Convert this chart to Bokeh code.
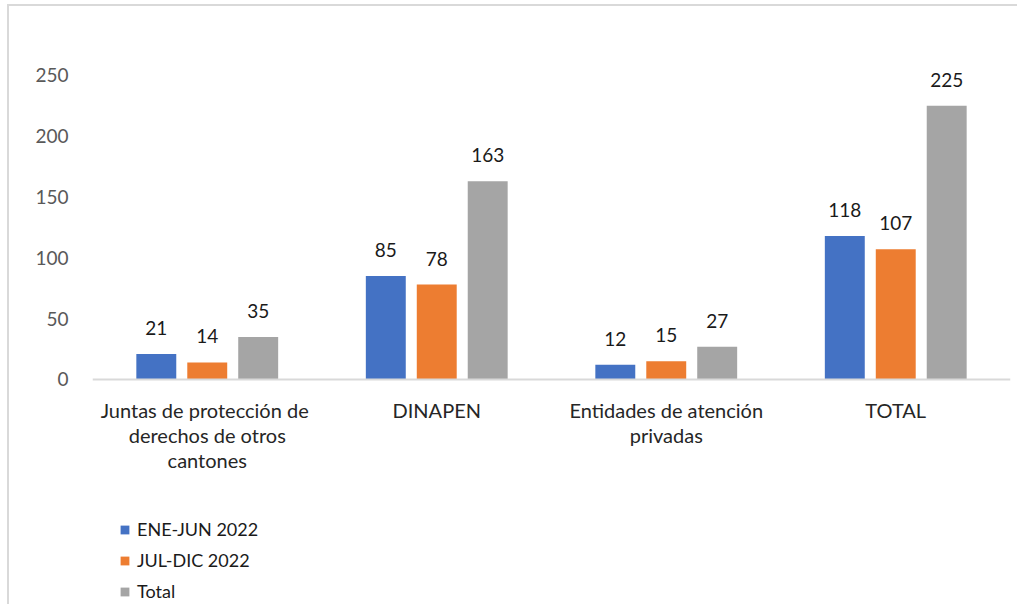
from bokeh.plotting import figure
from bokeh.models import FactorRange, Range1d, ColumnDataSource, FixedTicker, Legend, LegendItem
from bokeh.transform import dodge
from bokeh.embed import file_html
from bokeh.resources import INLINE
from bokeh.core.properties import value

categories = ["Juntas de protección  de\nderechos de otros\ncantones", "DINAPEN",
              "Entidades de atención\nprivadas", "TOTAL"]
series = ["ENE-JUN 2022", "JUL-DIC 2022", "Total"]
ene_jun = [21, 85, 12, 118]
jul_dic = [14, 78, 15, 107]
total = [35, 163, 27, 225]
y_ticks = [0, 50, 100, 150, 200, 250]

colors = ["#4472C4", "#ED7D31", "#A5A5A5"]
offsets = [-0.222, 0.0, 0.222]
FONT = "Lato"

lines = [c.split("\n") for c in categories]
src = ColumnDataSource(dict(
    cat=categories,
    s0=ene_jun, s1=jul_dic, s2=total,
    t0=[str(v) for v in ene_jun], t1=[str(v) for v in jul_dic], t2=[str(v) for v in total],
    l0=[l[0] if len(l) > 0 else "" for l in lines],
    l1=[l[1] if len(l) > 1 else "" for l in lines],
    l2=[l[2] if len(l) > 2 else "" for l in lines],
))

W, H = 1010, 600
p = figure(width=W, height=H, output_backend="svg", toolbar_location=None,
           x_range=FactorRange(*categories, range_padding=0),
           y_range=Range1d(-186.7, 306.7),
           min_border_left=83, min_border_right=9, min_border_top=0, min_border_bottom=0,
           tools="")
p.styles = {"margin-left": "7px", "margin-top": "4px",
            "border-left": "2px solid #d9d9d9", "border-top": "2px solid #d9d9d9"}
p.outline_line_color = None
p.grid.visible = False

renderers = []
for i, (col, off) in enumerate(zip(colors, offsets)):
    r = p.vbar(x=dodge("cat", off, range=p.x_range), top=f"s{i}", width=0.174,
               bottom=0, source=src, fill_color=col, line_color=None)
    renderers.append(r)
    p.text(x=dodge("cat", off, range=p.x_range), y=f"s{i}", text=f"t{i}", source=src,
           text_align="center", text_baseline="bottom", y_offset=-19,
           text_font=value(FONT), text_font_size="19px", text_color="#1a1a1a")

# category labels, line by line
for k in range(3):
    p.text(x="cat", y=0, text=f"l{k}", source=src, text_align="center", text_baseline="middle",
           y_offset=31 + 25 * k, text_font=value(FONT), text_font_size="20px", text_color="#262626")

xa = p.xaxis[0]
xa.fixed_location = 0
xa.axis_line_color = "#d9d9d9"
xa.axis_line_width = 2
xa.major_tick_line_color = None
xa.minor_tick_line_color = None
xa.major_tick_out = 0
xa.major_label_text_color = None

ya = p.yaxis[0]
ya.ticker = FixedTicker(ticks=y_ticks)
ya.axis_line_color = None
ya.major_tick_line_color = None
ya.minor_tick_line_color = None
ya.major_tick_out = 0
ya.major_label_standoff = 24
ya.major_label_text_font = FONT
ya.major_label_text_font_size = "19px"
ya.major_label_text_color = "#595959"

legend = Legend(items=[LegendItem(label=s, renderers=[r]) for s, r in zip(series, renderers)],
                location=(27, 4), orientation="vertical",
                glyph_width=11, glyph_height=11, label_standoff=7, spacing=9,
                label_text_font=FONT, label_text_font_size="18px", label_text_color="#1a1a1a",
                padding=0, margin=0, border_line_color=None, background_fill_alpha=0)
p.add_layout(legend)

open("out.html", "w").write(file_html(p, INLINE))
